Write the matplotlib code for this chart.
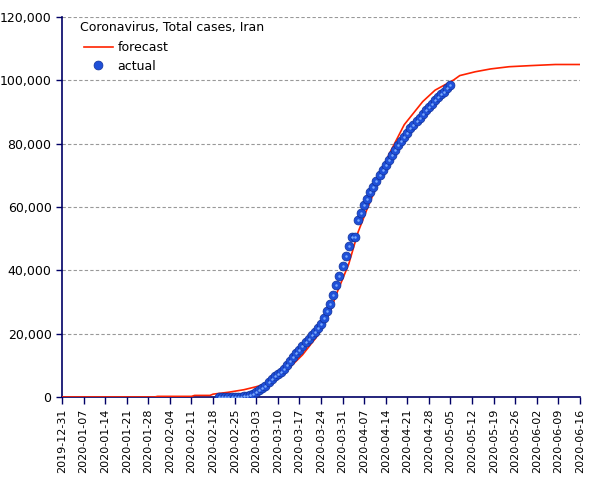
import matplotlib
matplotlib.use("Agg")
import matplotlib.pyplot as plt
import matplotlib.dates as mdates
from matplotlib.ticker import FuncFormatter, MultipleLocator
import pandas as pd

# actual total cases, Iran (daily, from 2020-02-20)
actual_start = "2020-02-20"
actual_cases = [
    2, 5, 18, 28, 43, 61, 95, 139, 245, 388,
    593, 978, 1501, 2336, 2922, 3513, 4747, 5823, 6566, 7161,
    8042, 9000, 10075, 11364, 12729, 13938, 14991, 16169, 17361, 18407,
    19644, 20610, 21638, 23049, 24811, 27017, 29406, 32332, 35408, 38309,
    41495, 44605, 47593, 50468, 50468, 55743, 58226, 60500, 62589, 64586,
    66220, 68192, 70029, 71686, 73303, 74877, 76389, 77995, 79494, 80868,
    82211, 83505, 84802, 85996, 87026, 88194, 89328, 90481, 91472, 92584,
    93657, 94640, 95646, 96448, 97424, 98647,
]

# forecast curve
forecast_dates = [
    "2019-12-31", "2020-01-30", "2020-01-31", "2020-02-11", "2020-02-12",
    "2020-02-17", "2020-02-18", "2020-02-23", "2020-02-28", "2020-03-03",
    "2020-03-06", "2020-03-09", "2020-03-13", "2020-03-18", "2020-03-23",
    "2020-03-27", "2020-03-29", "2020-04-02", "2020-04-05", "2020-04-08",
    "2020-04-11", "2020-04-15", "2020-04-20", "2020-04-26", "2020-04-30",
    "2020-05-06", "2020-05-08", "2020-05-13", "2020-05-18", "2020-05-24",
    "2020-05-31", "2020-06-08", "2020-06-16",
]
forecast_cases = [
    0, 0, 200, 200, 500,
    500, 900, 1500, 2300, 3250,
    4100, 5600, 8500, 13300, 19500,
    27000, 32500, 42000, 52000, 59500,
    66500, 76500, 86000, 93300, 96900,
    100100, 101500, 102700, 103600, 104300,
    104650, 105000, 105000,
]

tick_start = "2019-12-31"
tick_end = "2020-06-16"

navy = "#000066"

actual_x = pd.date_range(actual_start, periods=len(actual_cases), freq="D")
forecast_x = pd.to_datetime(forecast_dates)

fig = plt.figure(figsize=(6.05, 4.8), dpi=100)
ax = fig.add_axes([62 / 605, 83 / 480, 518 / 605, 380 / 480])

ax.plot(forecast_x, forecast_cases, color="#ff2200", lw=1.2, label="forecast", zorder=3)
ax.plot(actual_x, actual_cases, ls="none", marker="o", ms=6.4,
        mfc="#1f50d8", mec="#10309a", mew=0.5, label="actual", zorder=4)
# small highlight to give the dots a spherical look
ax.plot(actual_x, actual_cases, ls="none", marker="o", ms=1.8,
        mfc="#7aaaff", mec="none", zorder=5)

ax.set_xlim(pd.Timestamp(tick_start), pd.Timestamp(tick_end))
ax.set_ylim(0, 120000)
ax.set_xticks(pd.date_range(tick_start, tick_end, freq="7D"))
ax.xaxis.set_major_formatter(mdates.DateFormatter("%Y-%m-%d"))
ax.yaxis.set_major_locator(MultipleLocator(20000))
ax.yaxis.set_major_formatter(FuncFormatter(lambda v, p: f"{int(v):,}"))

for lbl in ax.get_xticklabels():
    lbl.set_rotation(90)
ax.tick_params(axis="x", labelsize=8, colors=navy, labelcolor="black", length=5, width=1)
ax.tick_params(axis="y", labelsize=9, colors=navy, labelcolor="black", length=4, width=1)

for s in ["top", "right"]:
    ax.spines[s].set_visible(False)
for s in ["left", "bottom"]:
    ax.spines[s].set_color(navy)
    ax.spines[s].set_linewidth(1.2)

ax.grid(axis="y", color="#999999", ls=(0, (3, 2)), lw=0.8)
ax.set_axisbelow(True)

ax.text(18 / 518, 1 - 10 / 380, "Coronavirus, Total cases, Iran", transform=ax.transAxes,
        fontsize=9, ha="left", va="center")
ax.legend(loc="upper left", bbox_to_anchor=(22 / 518, 1 - 24 / 380), frameon=False,
          fontsize=9, borderpad=0, borderaxespad=0, handlelength=2.3,
          handletextpad=0.4, labelspacing=0.45)

fig.savefig("out.png", dpi=100)
